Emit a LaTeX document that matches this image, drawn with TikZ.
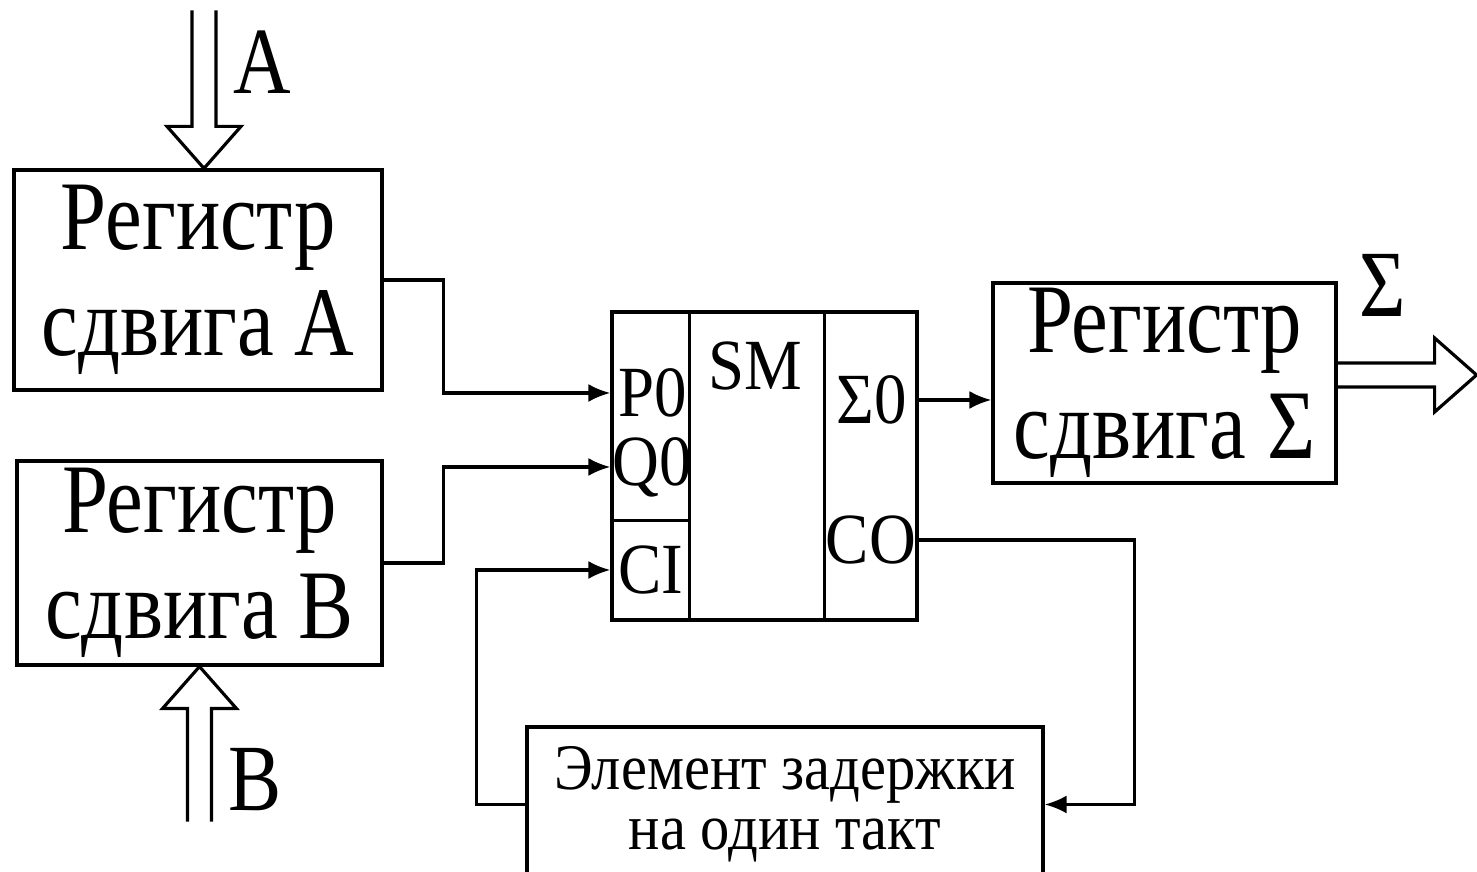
\documentclass[tikz,border=0pt]{standalone}
\usepackage{fontspec}
\setmainfont{Liberation Serif}[FakeStretch=0.84]
\newfontfamily\pinfont{Liberation Serif}[FakeStretch=0.9]
\usetikzlibrary{arrows.meta,positioning}
% широкая стрелка шины: острие, направление, длина
\newcommand{\busarrow}[3]{%
  \draw[bus,shift={(#1)},rotate=#2] (-#3,0.12) -- (-0.42,0.12) -- (-0.42,0.37) -- (0,0)
    -- (-0.42,-0.37) -- (-0.42,-0.12) -- (-#3,-0.12);}

\begin{document}
\begin{tikzpicture}[
    reg/.style={draw, line width=0.9pt, align=center, inner sep=0pt, font=\fontsize{28}{30}\selectfont},
    pin/.style={inner sep=0pt, font=\pinfont\fontsize{20.5}{20}\selectfont},
    sig/.style={line width=0.9pt, -{Latex[length=2.2mm,width=1.8mm]}},
    bus/.style={line width=0.9pt},
    lbl/.style={inner sep=0pt, font=\fontsize{27}{27}\selectfont}
]
\useasboundingbox (0,0) rectangle (14.77,8.72);

% регистры
\node[reg, minimum width=3.68cm, minimum height=2.2cm] (regA) at (1.98,5.92) {Регистр\\сдвига A};
\node[reg, minimum width=3.65cm, minimum height=2.04cm] (regB) at (1.995,3.09) {Регистр\\сдвига B};
\node[reg, minimum width=3.43cm, minimum height=2.0cm] (regS) at (11.645,4.89) {Регистр\\сдвига Σ};

% элемент задержки
\node[draw, line width=0.9pt, align=center, inner sep=0pt, minimum width=5.16cm, minimum height=1.55cm,
      font=\pinfont\fontsize{18.5}{17}\selectfont] (delay) at (7.85,0.675) {Элемент задержки\\на один такт};

% сумматор
\node[draw, line width=0.9pt, minimum width=3.05cm, minimum height=3.08cm] (sm) at (7.645,4.06) {};
\draw[bus] ([xshift=0.79cm]sm.north west) -- ([xshift=0.79cm]sm.south west);
\draw[bus] ([xshift=-0.94cm]sm.north east) -- ([xshift=-0.94cm]sm.south east);
\draw[bus] ([yshift=1.01cm]sm.south west) -- ++(0.79,0);

\node[pin] (p0) at (6.53,4.79) {P0};
\node[pin] (q0) at (6.52,4.05) {Q0};
\node[pin] (ci) at (6.51,3.02) {CI};
\node[pin] (smlab) at (7.55,5.06) {SM};
\node[pin] (s0) at (8.72,4.72) {Σ0};
\node[pin] (co) at (8.71,3.32) {CO};

% связи
\draw[sig] (regA.east) -- ++(0.6,0) |- (sm.west |- p0);
\draw[sig] (regB.east) -- ++(0.6,0) |- (sm.west |- q0);
\draw[sig] (delay.west) -- ++(-0.49,0) |- (sm.west |- ci);
\draw[sig] (sm.east |- co) -- ++(2.16,0) |- (delay.east);
\draw[sig] (sm.east |- s0) -- (regS.west |- s0);

% входы и выход
\coordinate (atip) at ([xshift=0.6mm]regA.north);
\coordinate (btip) at (regB.south);
\coordinate (stip) at ([xshift=1.39cm,yshift=0.8mm]regS.east);
\busarrow{atip}{-90}{1.58}
\busarrow{btip}{90}{1.55}
\busarrow{stip}{0}{1.39}

\node[lbl] (labA) at (2.62,8.10) {A};
\node[lbl] (labB) at (2.55,0.92) {B};
\node[lbl] (labS) at (13.83,5.87) {Σ};

\end{tikzpicture}
\end{document}
